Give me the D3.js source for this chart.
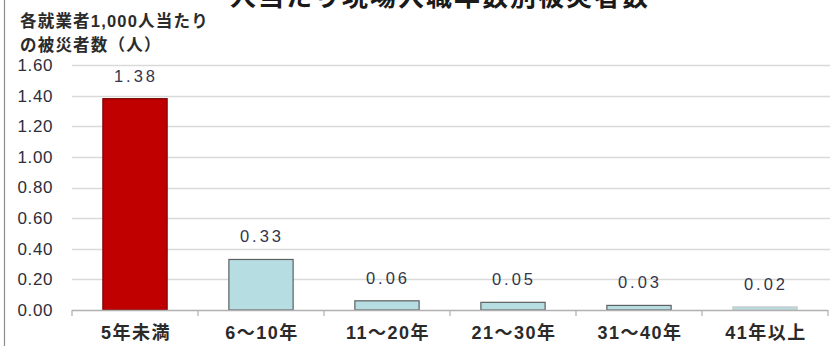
<!DOCTYPE html>
<html>
<head>
<meta charset="utf-8">
<script src="https://cdn.jsdelivr.net/npm/d3@7/dist/d3.min.js"></script>
<style>
  html, body { margin: 0; padding: 0; background: #fff; }
  svg { display: block; }
  text { font-family: "Liberation Sans", Arial, "Noto Sans CJK JP", sans-serif; }
</style>
</head>
<body>
<svg id="chart" width="834" height="346"></svg>
<script>
// Casualties per 1,000 workers by years since entry
const categories = ["5年未満", "6～10年", "11～20年", "21～30年", "31～40年", "41年以上"];
const values = [1.38, 0.33, 0.06, 0.05, 0.03, 0.02];
const yTicks = [0, 0.2, 0.4, 0.6, 0.8, 1.0, 1.2, 1.4, 1.6];
const titleText = "人当たり現場入職年数別被災者数";
const yTitleLines = ["各就業者1,000人当たり", "の被災者数（人）"];

const svg = d3.select("#chart");
const W = 834, H = 346;
const plot = { left: 72, right: 828, top: 65, bottom: 310 };

const x = d3.scaleBand()
  .domain(categories)
  .range([plot.left, plot.right])
  .paddingInner(0.49)
  .paddingOuter(0.245);

const y = d3.scaleLinear()
  .domain([0, 1.6])
  .range([plot.bottom, plot.top]);

// left frame line
svg.append("line")
  .attr("x1", 4.5).attr("x2", 4.5)
  .attr("y1", 0).attr("y2", H)
  .attr("stroke", "#8c8c8c").attr("stroke-width", 1.2);

// title (runs off the top of the frame)
svg.append("text")
  .attr("x", 440).attr("y", 6)
  .attr("text-anchor", "middle")
  .attr("font-family", "'Noto Sans CJK JP', sans-serif")
  .attr("font-weight", "bold")
  .attr("font-size", 26)
  .attr("letter-spacing", 2)
  .attr("fill", "#1a1a1a")
  .text(titleText);

// y-axis title
svg.append("g").selectAll("text")
  .data(yTitleLines)
  .join("text")
  .attr("x", 20)
  .attr("y", (d, i) => 27 + i * 24)
  .attr("font-family", "'Noto Sans CJK JP', sans-serif")
  .attr("font-size", 16.5)
  .attr("letter-spacing", 1.2)
  .attr("font-weight", "bold")
  .attr("fill", "#2b2b2b")
  .text(d => d);

// gridlines
svg.append("g").selectAll("line")
  .data(yTicks.filter(d => d > 0))
  .join("line")
  .attr("x1", plot.left).attr("x2", 830)
  .attr("y1", d => Math.round(y(d)) + 0.5)
  .attr("y2", d => Math.round(y(d)) + 0.5)
  .attr("stroke", "#d9d9d9").attr("stroke-width", 1.5);

// y tick labels
const yAxis = d3.axisLeft(y)
  .tickValues(yTicks)
  .tickFormat(d3.format(".2f"))
  .tickSize(0)
  .tickPadding(0);
const gy = svg.append("g")
  .attr("transform", `translate(53,0)`)
  .call(yAxis);
gy.select(".domain").remove();
gy.selectAll("text")
  .attr("font-size", 17)
  .attr("letter-spacing", 0.6)
  .attr("fill", "#2e2e3a")
  .attr("font-family", "'Liberation Sans', Arial, sans-serif");

// bars
svg.append("g").selectAll("rect")
  .data(values)
  .join("rect")
  .attr("x", (d, i) => x(categories[i]))
  .attr("y", d => y(d))
  .attr("width", x.bandwidth())
  .attr("height", d => y(0) - y(d))
  .attr("fill", (d, i) => i === 0 ? "#c00000" : "#b6dde2")
  .attr("stroke", (d, i) => i === 0 ? "#7a0000" : (i === 5 ? "#c8c8c8" : "#5f5f5f"))
  .attr("stroke-width", 1.2);

// value labels
svg.append("g").selectAll("text")
  .data(values)
  .join("text")
  .attr("x", (d, i) => x(categories[i]) + x.bandwidth() / 2 + 1)
  .attr("y", d => y(d) - 17)
  .attr("text-anchor", "middle")
  .attr("font-size", 16.5)
  .attr("letter-spacing", 3)
  .attr("fill", "#33364a")
  .text(d => d3.format(".2f")(d));

// x axis line with category separators
const gx = svg.append("g")
  .attr("transform", `translate(0,${plot.bottom})`);
gx.append("line")
  .attr("x1", plot.left).attr("x2", plot.right)
  .attr("y1", 0.5).attr("y2", 0.5)
  .attr("stroke", "#b0b0b0").attr("stroke-width", 1.5);
const edges = d3.range(categories.length + 1).map(i => plot.left + i * x.step());
gx.selectAll("line.sep")
  .data(edges)
  .join("line")
  .attr("class", "sep")
  .attr("x1", d => d).attr("x2", d => d)
  .attr("y1", 0).attr("y2", 6)
  .attr("stroke", "#b0b0b0").attr("stroke-width", 1.2);

// category labels
gx.selectAll("text.cat")
  .data(categories)
  .join("text")
  .attr("class", "cat")
  .attr("x", d => x(d) + x.bandwidth() / 2 + 1)
  .attr("y", 29)
  .attr("text-anchor", "middle")
  .attr("font-size", 18)
  .attr("letter-spacing", 1.5)
  .attr("font-weight", "bold")
  .attr("font-family", "'Noto Sans CJK JP', sans-serif")
  .attr("fill", "#2a2a2a")
  .text(d => d);
</script>
</body>
</html>
